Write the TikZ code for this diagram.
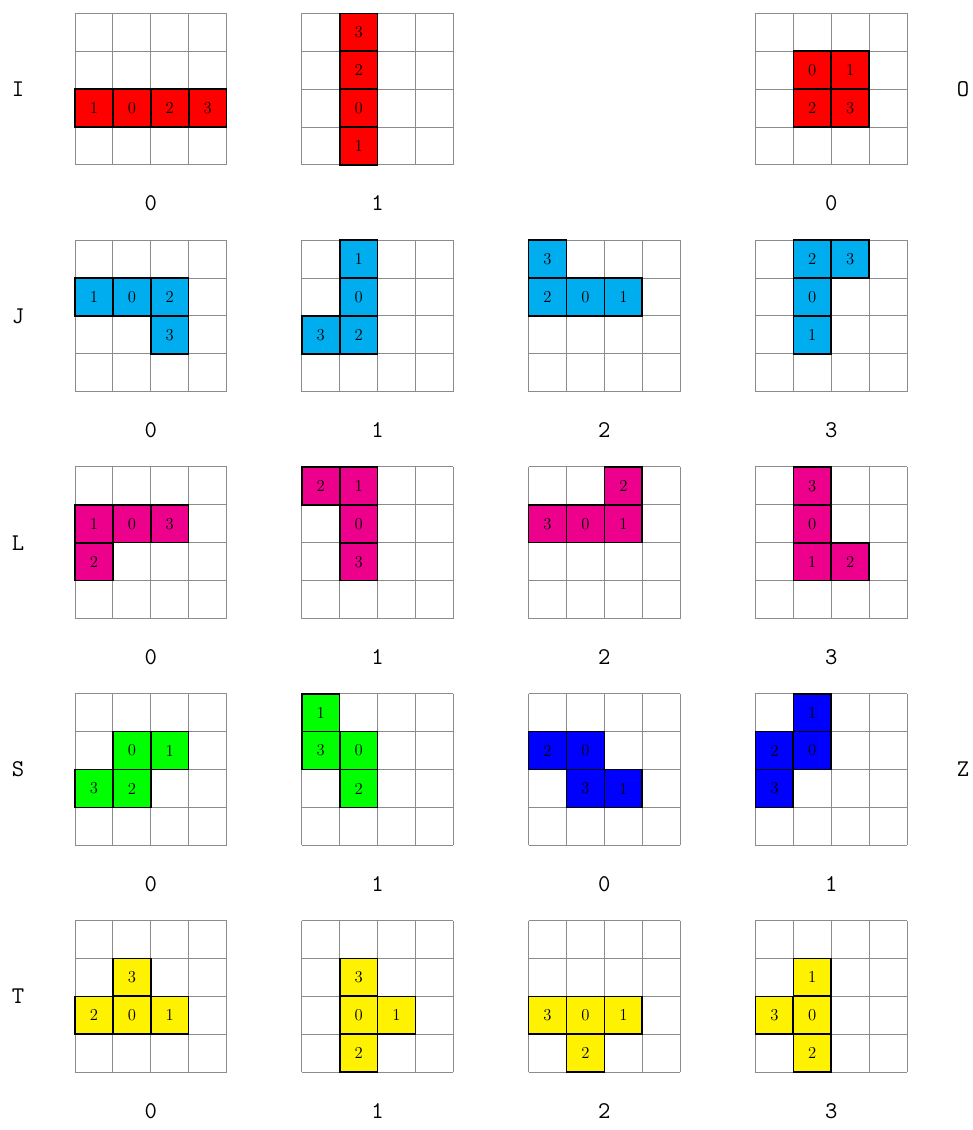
\documentclass[tikz,border=0pt]{standalone}
\definecolor{pI}{RGB}{255,0,0}
\definecolor{pJ}{RGB}{0,174,239}
\definecolor{pL}{RGB}{236,0,140}
\definecolor{pS}{RGB}{0,255,0}
\definecolor{pZ}{RGB}{0,0,255}
\definecolor{pT}{RGB}{255,242,0}
\tikzset{
  gridline/.style={draw=black!45, line width=0.7pt},
  cellbox/.style={draw=black, line width=1.2pt, minimum size=28.4pt, inner sep=0pt, font=\fontsize{12.5}{14}\selectfont},
  rowlab/.style={font=\ttfamily\fontsize{18}{20}\selectfont, inner sep=0pt},
  collab/.style={font=\ttfamily\fontsize{18}{20}\selectfont, inner sep=0pt}
}
% #1 column index, #2 row index
\newcommand\tgrid[2]{%
  \foreach \k in {0,...,4} {
    \draw[gridline] ({75+226.8*#1+37.9*\k},{13.3+226.8*#2}) -- ({75+226.8*#1+37.9*\k},{13.3+226.8*#2+151.6});
    \draw[gridline] ({75+226.8*#1},{13.3+226.8*#2+37.9*\k}) -- ({75+226.8*#1+151.6},{13.3+226.8*#2+37.9*\k});
  }
}
% #1 col, #2 row, #3 cx, #4 cy, #5 colour, #6 label
\newcommand\blk[6]{%
  \node[cellbox, fill=#5] (b-#2-#1-#3-#4) at ({75+226.8*#1+37.9*(#3+0.5)},{13.3+226.8*#2+37.9*(#4+0.5)}) {#6};
}
\newcommand\clab[3]{%
  \node[collab] (cl-#2-#1) at ({75+226.8*#1+75.8},{203.5+226.8*#2}) {#3};
}
\begin{document}
\begin{tikzpicture}[x=0.75pt,y=-0.75pt]
\useasboundingbox (0,0) rectangle (973,1130);
% grids
\foreach \r in {0,...,4} {
  \foreach \c in {0,1,3} { \tgrid{\c}{\r} }
}
\foreach \r in {1,...,4} { \tgrid{2}{\r} }
% row I / O
\blk{0}{0}{0}{2}{pI}{1}\blk{0}{0}{1}{2}{pI}{0}\blk{0}{0}{2}{2}{pI}{2}\blk{0}{0}{3}{2}{pI}{3}
\blk{1}{0}{1}{0}{pI}{3}\blk{1}{0}{1}{1}{pI}{2}\blk{1}{0}{1}{2}{pI}{0}\blk{1}{0}{1}{3}{pI}{1}
\blk{3}{0}{1}{1}{pI}{0}\blk{3}{0}{2}{1}{pI}{1}\blk{3}{0}{1}{2}{pI}{2}\blk{3}{0}{2}{2}{pI}{3}
% row J
\blk{0}{1}{0}{1}{pJ}{1}\blk{0}{1}{1}{1}{pJ}{0}\blk{0}{1}{2}{1}{pJ}{2}\blk{0}{1}{2}{2}{pJ}{3}
\blk{1}{1}{1}{0}{pJ}{1}\blk{1}{1}{1}{1}{pJ}{0}\blk{1}{1}{1}{2}{pJ}{2}\blk{1}{1}{0}{2}{pJ}{3}
\blk{2}{1}{0}{0}{pJ}{3}\blk{2}{1}{0}{1}{pJ}{2}\blk{2}{1}{1}{1}{pJ}{0}\blk{2}{1}{2}{1}{pJ}{1}
\blk{3}{1}{1}{0}{pJ}{2}\blk{3}{1}{2}{0}{pJ}{3}\blk{3}{1}{1}{1}{pJ}{0}\blk{3}{1}{1}{2}{pJ}{1}
% row L
\blk{0}{2}{0}{1}{pL}{1}\blk{0}{2}{1}{1}{pL}{0}\blk{0}{2}{2}{1}{pL}{3}\blk{0}{2}{0}{2}{pL}{2}
\blk{1}{2}{0}{0}{pL}{2}\blk{1}{2}{1}{0}{pL}{1}\blk{1}{2}{1}{1}{pL}{0}\blk{1}{2}{1}{2}{pL}{3}
\blk{2}{2}{2}{0}{pL}{2}\blk{2}{2}{0}{1}{pL}{3}\blk{2}{2}{1}{1}{pL}{0}\blk{2}{2}{2}{1}{pL}{1}
\blk{3}{2}{1}{0}{pL}{3}\blk{3}{2}{1}{1}{pL}{0}\blk{3}{2}{1}{2}{pL}{1}\blk{3}{2}{2}{2}{pL}{2}
% row S / Z
\blk{0}{3}{1}{1}{pS}{0}\blk{0}{3}{2}{1}{pS}{1}\blk{0}{3}{0}{2}{pS}{3}\blk{0}{3}{1}{2}{pS}{2}
\blk{1}{3}{0}{0}{pS}{1}\blk{1}{3}{0}{1}{pS}{3}\blk{1}{3}{1}{1}{pS}{0}\blk{1}{3}{1}{2}{pS}{2}
\blk{2}{3}{0}{1}{pZ}{2}\blk{2}{3}{1}{1}{pZ}{0}\blk{2}{3}{1}{2}{pZ}{3}\blk{2}{3}{2}{2}{pZ}{1}
\blk{3}{3}{1}{0}{pZ}{1}\blk{3}{3}{0}{1}{pZ}{2}\blk{3}{3}{1}{1}{pZ}{0}\blk{3}{3}{0}{2}{pZ}{3}
% row T
\blk{0}{4}{1}{1}{pT}{3}\blk{0}{4}{0}{2}{pT}{2}\blk{0}{4}{1}{2}{pT}{0}\blk{0}{4}{2}{2}{pT}{1}
\blk{1}{4}{1}{1}{pT}{3}\blk{1}{4}{1}{2}{pT}{0}\blk{1}{4}{2}{2}{pT}{1}\blk{1}{4}{1}{3}{pT}{2}
\blk{2}{4}{0}{2}{pT}{3}\blk{2}{4}{1}{2}{pT}{0}\blk{2}{4}{2}{2}{pT}{1}\blk{2}{4}{1}{3}{pT}{2}
\blk{3}{4}{1}{1}{pT}{1}\blk{3}{4}{0}{2}{pT}{3}\blk{3}{4}{1}{2}{pT}{0}\blk{3}{4}{1}{3}{pT}{2}
% row labels
\node[rowlab] (lI) at (18,89.1) {I};
\node[rowlab] (lO) at (963,89.1) {O};
\node[rowlab] (lJ) at (18,315.9) {J};
\node[rowlab] (lL) at (18,542.7) {L};
\node[rowlab] (lS) at (18,769.5) {S};
\node[rowlab] (lZ) at (963,769.5) {Z};
\node[rowlab] (lT) at (18,996.3) {T};
% column labels
\clab{0}{0}{0}\clab{1}{0}{1}\clab{3}{0}{0}
\clab{0}{1}{0}\clab{1}{1}{1}\clab{2}{1}{2}\clab{3}{1}{3}
\clab{0}{2}{0}\clab{1}{2}{1}\clab{2}{2}{2}\clab{3}{2}{3}
\clab{0}{3}{0}\clab{1}{3}{1}\clab{2}{3}{0}\clab{3}{3}{1}
\clab{0}{4}{0}\clab{1}{4}{1}\clab{2}{4}{2}\clab{3}{4}{3}
\end{tikzpicture}
\end{document}
